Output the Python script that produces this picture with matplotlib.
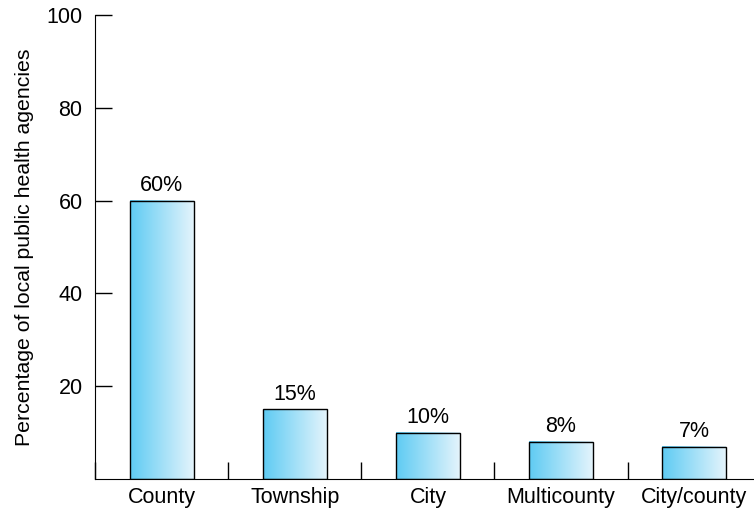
import matplotlib
matplotlib.use("Agg")
import matplotlib.pyplot as plt
import numpy as np
from matplotlib.colors import LinearSegmentedColormap

plt.rcParams['font.family'] = ['Liberation Sans', 'DejaVu Sans']

categories = ["County", "Township", "City", "Multicounty", "City/county"]
values = [60, 15, 10, 8, 7]
labels = ["60%", "15%", "10%", "8%", "7%"]
yticks = [20, 40, 60, 80, 100]

fig = plt.figure(figsize=(7.54, 5.12), dpi=100)
ax = fig.add_axes([95/754, 33/512, 1 - 95/754, (479-15)/512])

x = np.arange(len(categories))
bars = ax.bar(x, values, width=0.48, facecolor='none', edgecolor='black', linewidth=1.0, zorder=3)

cmap = LinearSegmentedColormap.from_list("g", ["#5ECBF3", "#E4F4FC"])
grad = np.linspace(0, 1, 256).reshape(1, -1)
for b in bars:
    x0, w, h = b.get_x(), b.get_width(), b.get_height()
    ax.imshow(grad, cmap=cmap, aspect='auto', extent=[x0, x0 + w, 0, h], zorder=2,
              interpolation='bilinear')

for b, lab in zip(bars, labels):
    ax.text(b.get_x() + b.get_width() / 2, b.get_height() + 1.0, lab,
            ha='center', va='bottom', fontsize=15.5)

ax.set_xlim(-0.5, 4.449)
ax.set_ylim(0, 100)
ax.set_yticks(yticks)
ax.set_yticklabels([str(v) for v in yticks], fontsize=15.5)
ax.set_xticks(x)
ax.set_xticklabels(categories, fontsize=15.5)
ax.set_xticks(np.arange(-0.5, 4.5, 1.0), minor=True)
ax.tick_params(axis='x', which='major', length=0, pad=6)
ax.tick_params(axis='x', which='minor', direction='in', length=12, width=1)
ax.tick_params(axis='y', direction='in', length=12, width=1, pad=9)
ax.spines['top'].set_visible(False)
ax.spines['right'].set_visible(False)
ax.set_ylabel("Percentage of local public health agencies", fontsize=15.3, labelpad=9)

fig.savefig("out.png", dpi=100)
